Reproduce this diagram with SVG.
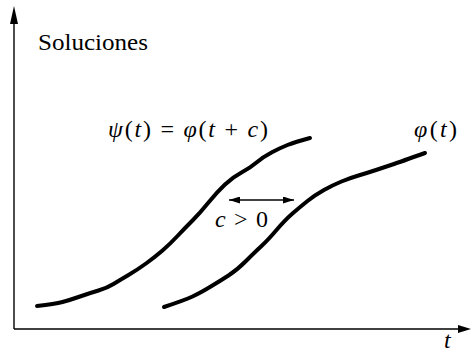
<svg xmlns="http://www.w3.org/2000/svg" width="471" height="353" viewBox="0 0 471 353">
<style>
.axis{stroke:#000;stroke-width:1.4;fill:none}
.curve{stroke:#000;stroke-width:4;fill:none;stroke-linecap:round;stroke-linejoin:round}
text{font-family:"Liberation Serif","Times New Roman",serif;font-size:24px;fill:#000}
.it{font-style:italic}
</style>
<defs>
<marker id="ah" viewBox="0 0 11 7" refX="11" refY="3.5" markerWidth="11" markerHeight="7" markerUnits="userSpaceOnUse" orient="auto-start-reverse">
<path d="M0,0 L11,3.5 L0,7 Z" fill="#000"/>
</marker>
</defs>
<g id="axes">
<line class="axis" x1="14" y1="329" x2="14" y2="20"/>
<polygon points="14,6 18,24 10,24" fill="#000"/>
<line class="axis" x1="14" y1="329" x2="460" y2="329"/>
<polygon points="471,329 458,325 458,333" fill="#000"/>
</g>
<g id="connectors">
<path id="psi" class="curve" d="M37,306 Q55,304 62.5,302 Q70,300 80,296.5 Q90,293 98.5,290.5 Q107,288 113.5,284 Q120,280 128.5,275 Q137,270 146,263.5 Q155,257 162.5,250.5 Q170,244 177.5,236 Q185,228 192.5,220.5 Q200,213 208.5,202.5 Q217,192 225,184.5 Q233,177 241.5,172.5 Q250,168 256.5,162.5 Q263,157 271.5,152.5 Q280,148 287.5,145 Q295,142 310,138"/>
<path id="phi" class="curve" d="M164,307 Q185,300 192.5,296.5 Q200,293 210,287 Q220,281 228.5,275.5 Q237,270 246,261 Q255,252 261.5,246 Q268,240 276.5,230 Q285,220 292.5,213.5 Q300,207 307.5,201 Q315,195 324,190 Q333,185 341.5,181.5 Q350,178 358.5,175.5 Q367,173 376,170 Q385,167 392.5,164.5 Q400,162 425,153"/>
<line id="shift" x1="229" y1="200" x2="294" y2="200" stroke="#000" stroke-width="1.5" marker-start="url(#ah)" marker-end="url(#ah)"/>
</g>
<g id="labels">
<text x="38" y="50" textLength="110" lengthAdjust="spacingAndGlyphs">Soluciones</text>
<text x="108" y="137" textLength="160" xml:space="preserve"><tspan class="it">ψ</tspan>(<tspan class="it">t</tspan>) = <tspan class="it">φ</tspan>(<tspan class="it">t</tspan> + <tspan class="it">c</tspan>)</text>
<text x="215" y="227" textLength="53" xml:space="preserve"><tspan class="it">c</tspan> &gt; 0</text>
<text x="414" y="137" textLength="43"><tspan class="it">φ</tspan>(<tspan class="it">t</tspan>)</text>
<text class="it" x="444" y="348">t</text>
</g>
</svg>
